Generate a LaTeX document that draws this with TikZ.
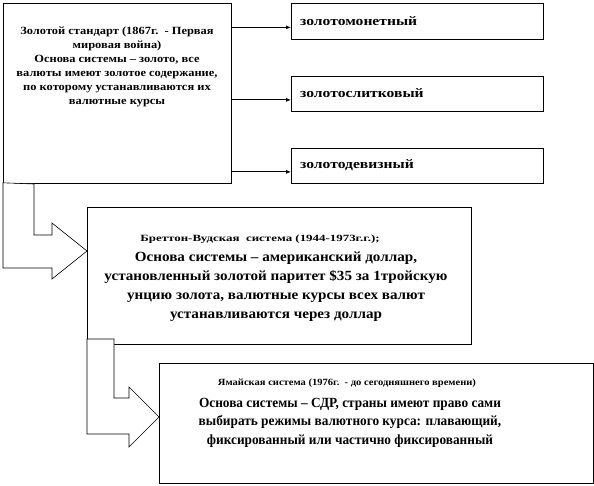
\documentclass[tikz,border=0pt]{standalone}
\usepackage{fontspec}
\setmainfont{Liberation Serif}
\newfontfamily\fBoxA[FakeStretch=1.13]{Liberation Serif}
\newfontfamily\fRight[FakeStretch=1.2]{Liberation Serif}
\newfontfamily\fSmallB[FakeStretch=1.36]{Liberation Serif}
\newfontfamily\fLargeB[FakeStretch=1.08]{Liberation Serif}
\newfontfamily\fSmallC[FakeStretch=1.11]{Liberation Serif}
\newfontfamily\fLargeC[FakeStretch=0.95]{Liberation Serif}
\usetikzlibrary{arrows.meta}
\begin{document}
\begin{tikzpicture}[x=1pt,y=-1pt,
  boxr/.style={draw=black, line width=0.8pt, fill=white, inner sep=0pt, anchor=north west},
  bigarrow/.style={draw=black, line width=0.6pt, fill=white, line join=miter},
  conn/.style={draw=black, line width=0.8pt, -{Latex[length=5pt,width=4pt]}},
  txt/.style={inner sep=0pt, align=center},
]
\useasboundingbox (0,0) rectangle (594,486);
% boxes
\node[boxr, minimum width=228pt, minimum height=180pt] (b1) at (3,3) {};
\node[boxr, minimum width=252pt, minimum height=36pt] (r1) at (291,3) {};
\node[boxr, minimum width=252pt, minimum height=35pt] (r2) at (291,76) {};
\node[boxr, minimum width=252pt, minimum height=35pt] (r3) at (291,148) {};
\node[boxr, minimum width=384pt, minimum height=137pt] (b2) at (87,207) {};
\node[boxr, minimum width=434pt, minimum height=120pt] (b3) at (159,363) {};
% connectors
\coordinate (e1) at ([yshift=-6pt]r1.west);
\coordinate (e2) at ([yshift=-6pt]r2.west);
\coordinate (e3) at ([yshift=-6pt]r3.west);
\draw[conn] (b1.east |- e1) -- (e1);
\draw[conn] (b1.east |- e2) -- (e2);
\draw[conn] (b1.east |- e3) -- (e3);
% big bent arrows
\coordinate (t1) at (b2.west |- 0,251);
\path[bigarrow] ([yshift=1pt]b1.south west) -- (3,268) -- (52,268) -- (52,279) -- (t1)
  -- (52,223) -- (52,235) -- (34,235) -- (34,184) -- cycle;
\coordinate (t2) at (b3.west |- 0,417);
\path[bigarrow] (87,339) -- (87,434) -- (129,434) -- (129,447) -- (t2)
  -- (129,387) -- (129,398) -- (114,398) -- (114,339) -- cycle;
% texts
\node[txt, font=\fBoxA\bfseries\fontsize{11}{14}\selectfont, anchor=north] (tx1) at (117,27)
  {Золотой стандарт (1867г.\ \ - Первая\\мировая война)\\Основа системы – золото, все\\валюты имеют золотое содержание,\\по которому устанавливаются их\\валютные курсы};
\node[txt, font=\fRight\bfseries\fontsize{13}{14}\selectfont, anchor=west] (tr1) at (300,21) {золотомонетный};
\node[txt, font=\fRight\bfseries\fontsize{13}{14}\selectfont, anchor=west] (tr2) at (300,93) {золотослитковый};
\node[txt, font=\fRight\bfseries\fontsize{13}{14}\selectfont, anchor=west] (tr3) at (300,165) {золотодевизный};
\node[txt, font=\fSmallB\bfseries\fontsize{9.5}{12}\selectfont] (tb2a) at (260,239) {Бреттон-Вудская\ \ система (1944-1973г.г.);};
\node[txt, font=\fLargeB\bfseries\fontsize{14}{19}\selectfont, anchor=north] (tb2b) at (276,251.5)
  {Основа системы – американский доллар,\\установленный золотой паритет \$35 за 1тройскую\\унцию золота, валютные курсы всех валют\\устанавливаются через доллар};
\node[txt, font=\fSmallC\bfseries\fontsize{9.5}{12}\selectfont] (tb3a) at (347,383) {Ямайская система (1976г.\ \ - до сегодняшнего времени)};
\node[txt, font=\fLargeC\bfseries\fontsize{14}{18.5}\selectfont, anchor=north] (tb3b) at (350,398)
  {Основа системы – СДР, страны имеют право сами\\выбирать режимы валютного курса: плавающий,\\фиксированный или частично фиксированный};
\end{tikzpicture}
\end{document}
